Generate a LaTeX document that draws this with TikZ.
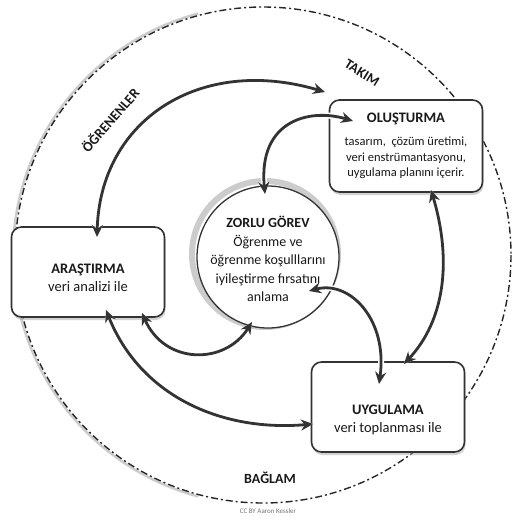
\documentclass[tikz,border=0pt]{standalone}
\usepackage{fontspec}
\setmainfont{Carlito}
\usetikzlibrary{arrows.meta,shadows}
\begin{document}
\begin{tikzpicture}[x=1pt,y=-1pt,
  box/.style={draw=black!80, line width=1.6pt, fill=white, rounded corners=10pt,
    minimum width=153pt, minimum height=90pt, align=center, inner sep=2pt,
    font=\fontsize{14.5}{18}\selectfont, text=black!90,
    drop shadow={shadow xshift=1pt, shadow yshift=-3pt, fill=black!35}},
  link/.style={draw=black!80, line width=2.8pt,
    preaction={draw=white, line width=6pt},
    {Stealth[length=12pt,width=11pt]}-{Stealth[length=12pt,width=11pt]}},
  lbl/.style={font=\bfseries\fontsize{14}{16}\selectfont, text=black!90}]
\useasboundingbox (0,0) rectangle (515,520);
% outer context circle
\coordinate (oc) at (263,255);
\draw[gray!40, line width=2.5pt] ([shift={(oc)}]-105:250) arc[start angle=-105, end angle=-255, radius=250];
\draw[black!85, line width=1.4pt, dash pattern=on 7pt off 3pt on 2pt off 3pt] (oc) circle[radius=248];
% centre circle
\draw[gray!40, line width=6pt] (265,254) circle[radius=73];
\draw[fill=white, draw=black!80, line width=1.3pt] (268,257) circle[radius=71];
\node[align=center, font=\fontsize{14}{18.5}\selectfont, text=black!90] (task) at (268,259)
  {\textbf{ZORLU GÖREV}\\Öğrenme ve\\öğrenme koşulllarını\\iyileştirme fırsatını\\anlama};
% boxes
\node[box, minimum height=92pt, font=\fontsize{12.5}{15.5}\selectfont] (olus) at (406,146)
  {{\fontsize{14.5}{18}\selectfont\bfseries OLUŞTURMA}\\[8pt]tasarım,\ \ çözüm üretimi,\\veri enstrümantasyonu,\\uygulama planını içerir.};
\node[box] (aras) at (88,272) {\rule{0pt}{21pt}\textbf{ARAŞTIRMA}\\veri analizi ile};
\node[box] (uyg) at (388,407) {\rule{0pt}{35pt}\textbf{UYGULAMA}\\veri toplanması ile};
% labels
\node[lbl, rotate=-32] (takim) at (362,73) {TAKIM};
\node[lbl, rotate=49] (ogr) at (110,120) {ÖĞRENENLER};
\node[lbl] (bag) at (270,478) {BAĞLAM};
\node[font=\fontsize{7}{8}\selectfont, text=black!55] (cc) at (268,511) {CC BY Aaron Kessler};
% arrow ends
\coordinate (a1s) at (97,237);  \coordinate (a1e) at (325,92);
\coordinate (a2s) at (265,194); \coordinate (a2e) at (353,121);
\coordinate (a3s) at (431,190); \coordinate (a3e) at (404,364);
\coordinate (a4s) at (309,291); \coordinate (a4e) at (379,384);
\coordinate (a5s) at (142,313); \coordinate (a5e) at (252,322);
\coordinate (a6s) at (106,310); \coordinate (a6e) at (313,424);
\draw[link] (a1s) .. controls (100,120) and (200,55) .. (a1e);
\draw[link] (a2s) .. controls (258,120) and (310,108) .. (a2e);
\draw[link] (a3s) .. controls (452,260) and (445,320) .. (a3e);
\draw[link] (a4s) .. controls (350,280) and (388,320) .. (a4e);
\draw[link] (a5s) .. controls (165,365) and (225,365) .. (a5e);
\draw[link] (a6s) .. controls (140,395) and (220,432) .. (a6e);
\end{tikzpicture}
\end{document}
